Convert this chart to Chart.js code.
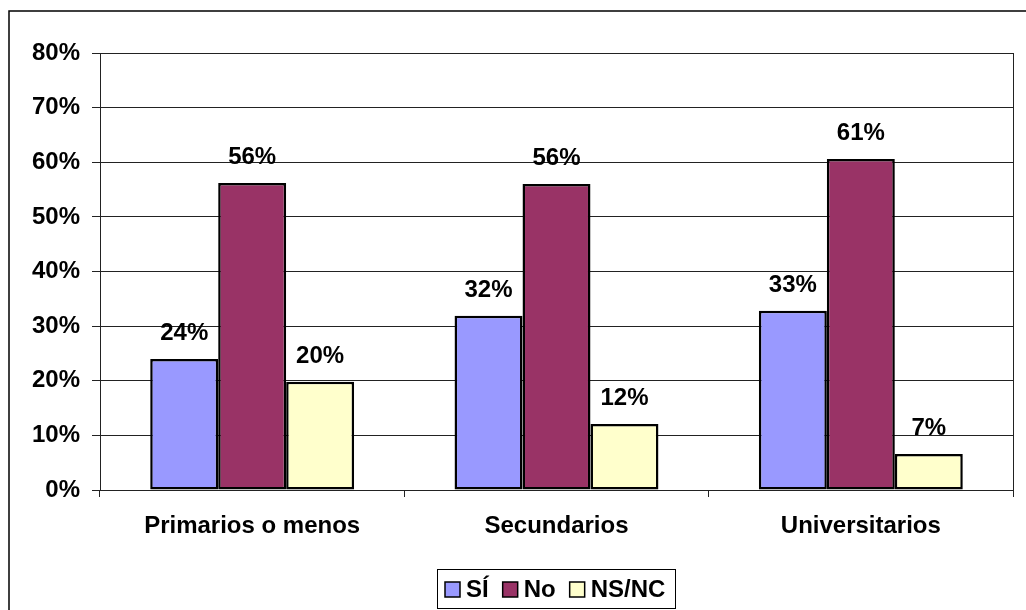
<!DOCTYPE html>
<html lang="es">
<head>
    <meta charset="UTF-8">
    <title>Nivel de estudios</title>
    <style>
        body {
            margin: 0;
            background-color: #fff;
        }
        canvas {
            display: block;
        }
    </style>
    <script src="https://cdn.jsdelivr.net/npm/chart.js"></script>
</head>
<body>
<canvas id="estudiosChart" width="1026" height="610"></canvas>

<script>
    // Datos (en %)
    const categorias = ['Primarios o menos', 'Secundarios', 'Universitarios'];
    const serieSi = [24.0, 31.9, 32.8];
    const serieNo = [56.2, 56.0, 60.6];
    const serieNsNc = [19.8, 12.1, 6.6];
    const nombresSeries = ['SÍ', 'No', 'NS/NC'];
    const coloresSeries = ['#9999FF', '#993366', '#FFFFCC'];

    const familia = '"Liberation Sans", Arial, sans-serif';
    const tam = 24;
    const fuente = 'bold ' + tam + 'px ' + familia;

    // Marco exterior, borde derecho del área, etiquetas y leyenda
    const extras = {
        id: 'extras',
        beforeDraw(chart) {
            const ctx = chart.ctx;
            ctx.save();
            ctx.strokeStyle = '#000';
            ctx.lineWidth = 1.5;
            ctx.strokeRect(9, 11, 1200, 800);
            ctx.restore();
        },
        afterDraw(chart) {
            const ctx = chart.ctx;
            const area = chart.chartArea;
            ctx.save();

            // borde derecho
            ctx.strokeStyle = '#222';
            ctx.lineWidth = 1;
            ctx.beginPath();
            ctx.moveTo(Math.round(area.right) + 0.5, area.top);
            ctx.lineTo(Math.round(area.right) + 0.5, area.bottom + 7);
            ctx.stroke();

            // etiquetas de valores
            ctx.font = fuente;
            ctx.fillStyle = '#000';
            ctx.textAlign = 'center';
            ctx.textBaseline = 'alphabetic';
            chart.data.datasets.forEach((ds, i) => {
                chart.getDatasetMeta(i).data.forEach((bar, j) => {
                    ctx.fillText(Math.round(ds.data[j]) + '%', bar.x, bar.y - 19);
                });
            });

            // leyenda
            const marca = 15, sep = 6, hueco = 14, padIzq = 8, padDer = 10;
            let ancho = padIzq + padDer;
            const anchos = chart.data.datasets.map(ds => ctx.measureText(ds.label).width);
            anchos.forEach((w, i) => {
                ancho += marca + sep + w + (i < anchos.length - 1 ? hueco : 0);
            });
            const cx = (area.left + area.right) / 2;
            const bx = Math.round(cx - ancho / 2);
            const by = 569, bh = 39;
            ctx.strokeStyle = '#000';
            ctx.lineWidth = 1;
            ctx.strokeRect(bx + 0.5, by + 0.5, Math.round(ancho), bh);

            let x = bx + padIzq;
            const yc = by + bh / 2 + 1;
            ctx.textAlign = 'left';
            ctx.textBaseline = 'middle';
            chart.data.datasets.forEach((ds, i) => {
                ctx.fillStyle = ds.backgroundColor;
                ctx.fillRect(x, yc - marca / 2, marca, marca);
                ctx.lineWidth = 1.5;
                ctx.strokeStyle = '#000';
                ctx.strokeRect(x, yc - marca / 2, marca, marca);
                ctx.fillStyle = '#000';
                ctx.fillText(ds.label, x + marca + sep, yc + 1);
                x += marca + sep + anchos[i] + hueco;
            });

            ctx.restore();
        }
    };

    const datos = {
        labels: categorias,
        datasets: [serieSi, serieNo, serieNsNc].map((serie, i) => ({
            label: nombresSeries[i],
            data: serie,
            backgroundColor: coloresSeries[i],
            borderColor: '#000',
            borderWidth: 2.5,
            borderSkipped: false,
            categoryPercentage: 0.67,
            barPercentage: 1.0
        }))
    };

    const config = {
        type: 'bar',
        data: datos,
        plugins: [extras],
        options: {
            responsive: false,
            animation: false,
            devicePixelRatio: 1,
            layout: {
                padding: { left: 0, top: 53, right: 13, bottom: 0 }
            },
            plugins: {
                legend: { display: false },
                tooltip: { enabled: false }
            },
            scales: {
                x: {
                    grid: {
                        offset: true,
                        drawOnChartArea: false,
                        drawTicks: true,
                        tickLength: 7,
                        color: '#222'
                    },
                    border: { display: true, color: '#222' },
                    ticks: {
                        color: '#000',
                        font: { family: familia, size: tam, weight: 'bold' },
                        padding: 15,
                        maxRotation: 0
                    },
                    afterFit: (escala) => { escala.height = 120; }
                },
                y: {
                    min: 0,
                    max: 80,
                    ticks: {
                        stepSize: 10,
                        color: '#000',
                        font: { family: familia, size: tam, weight: 'bold' },
                        padding: 12,
                        callback: (v) => v + '%'
                    },
                    grid: {
                        color: '#222',
                        lineWidth: 1,
                        tickLength: 8
                    },
                    border: { display: true, color: '#222' },
                    afterFit: (escala) => { escala.width = 100; }
                }
            }
        }
    };

    new Chart(document.getElementById('estudiosChart').getContext('2d'), config);
</script>
</body>
</html>
